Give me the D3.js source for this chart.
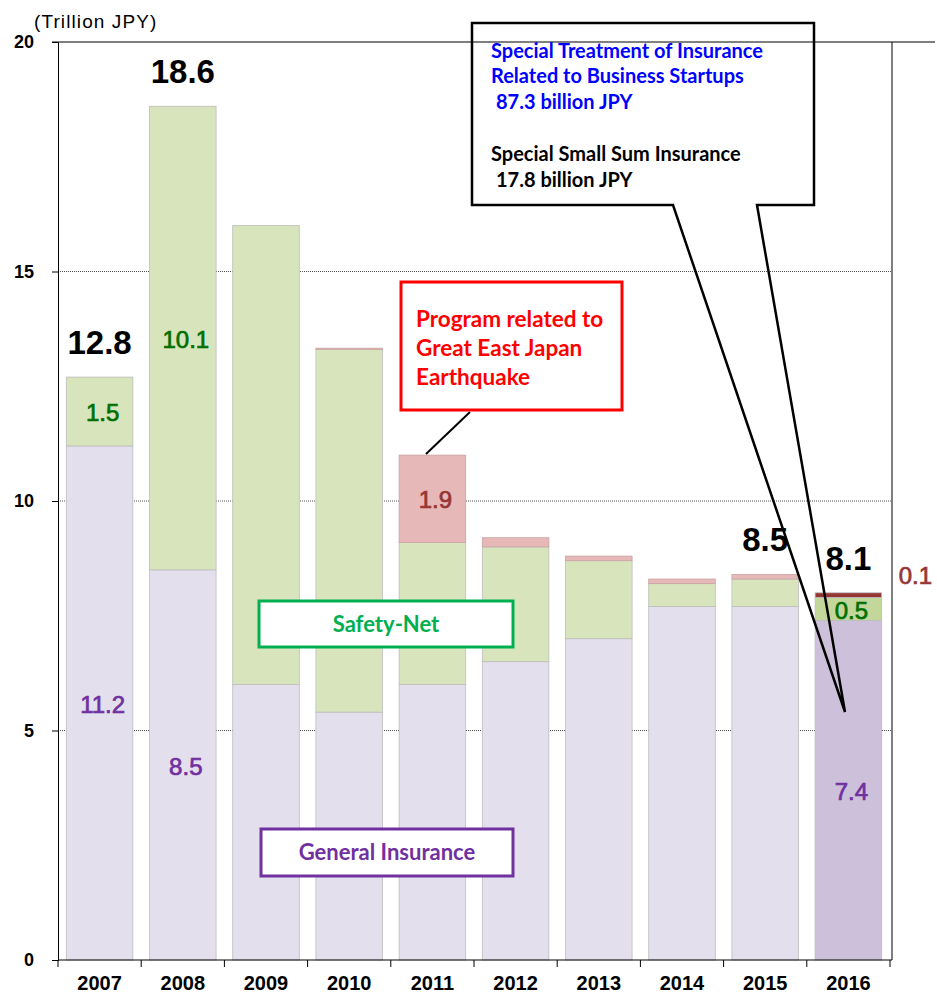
<!DOCTYPE html>
<html>
<head>
<meta charset="utf-8">
<script src="https://cdn.jsdelivr.net/npm/d3@7"></script>
<style>
  html, body { margin: 0; padding: 0; background: #fff; }
  svg { display: block; }
</style>
</head>
<body>
<svg id="chart" width="937" height="994"></svg>
<script>
// Credit guarantee amounts by fiscal year (trillion JPY)
const years = ['2007', '2008', '2009', '2010', '2011', '2012', '2013', '2014', '2015', '2016'];
const general = [11.2, 8.5, 6.0, 5.4, 6.0, 6.5, 7.0, 7.7, 7.7, 7.4];
const safetyNet = [1.5, 10.1, 10.0, 7.9, 3.1, 2.5, 1.7, 0.5, 0.6, 0.5];
const earthquake = [0, 0, 0, 0.03, 1.9, 0.2, 0.1, 0.1, 0.1, 0];
const specialPrograms = [0, 0, 0, 0, 0, 0, 0, 0, 0, 0.1];

// Totals printed above selected bars
const totalYears = ['2007', '2008', '2015', '2016'];
const totalLabels = ['12.8', '18.6', '8.5', '8.1'];

// Years whose segments carry value labels
const generalLabelYears = ['2007', '2008', '2016'];
const safetyLabelYears = ['2007', '2008', '2016'];
const earthquakeLabelYears = ['2011'];
const specialLabelYears = ['2016'];

const yTicks = [0, 5, 10, 15, 20];
const highlightYear = '2016';

const rows = years.map((yr, i) => ({
  year: yr,
  general: general[i],
  safetyNet: safetyNet[i],
  earthquake: earthquake[i],
  special: specialPrograms[i]
}));

const keys = ['general', 'safetyNet', 'earthquake', 'special'];
const stack = d3.stack().keys(keys)(rows);

const fills = {
  general: ['#e4dfec', '#ccc0da'],
  safetyNet: ['#d8e4bc', '#c4d79b'],
  earthquake: ['#e6b8b7', '#e6b8b7'],
  special: ['#963634', '#963634']
};
const labelColors = {
  general: '#7030a0',
  safetyNet: '#007000',
  earthquake: '#963634',
  special: '#963634'
};

const svg = d3.select('#chart');
const plotLeft = 58, plotRight = 890, plotTop = 42, plotBottom = 960;

const x = d3.scaleBand().domain(years).range([plotLeft, plotRight]).paddingInner(0.2).paddingOuter(0.1);
const y = d3.scaleLinear().domain([0, 20]).range([plotBottom, plotTop]);

const numFont = '"Liberation Sans", Arial, sans-serif';
const textFont = 'Lato, "Open Sans", sans-serif';

// Dotted gridlines
svg.append('g').selectAll('line')
  .data(yTicks.filter(t => t > 0 && t < 20))
  .join('line')
  .attr('x1', plotLeft).attr('x2', plotRight + 2)
  .attr('y1', d => y(d)).attr('y2', d => y(d))
  .attr('stroke', '#555').attr('stroke-width', 1)
  .attr('stroke-dasharray', '1,1');

// Stacked bars
const layer = svg.append('g').selectAll('g')
  .data(stack)
  .join('g');

layer.selectAll('rect')
  .data(s => s.map(d => ({ key: s.key, d })).filter(o => o.d[1] - o.d[0] > 0))
  .join('rect')
  .attr('x', o => x(o.d.data.year))
  .attr('width', x.bandwidth())
  .attr('y', o => y(o.d[1]))
  .attr('height', o => y(o.d[0]) - y(o.d[1]))
  .attr('fill', o => fills[o.key][o.d.data.year === highlightYear ? 1 : 0])
  .attr('stroke', o => o.key === 'earthquake' ? '#c9a3a2' : '#bdbdbd')
  .attr('stroke-width', 0.8);

// Segment value labels
function segLabels(key, labelYears, dx, dy) {
  const s = stack.find(l => l.key === key);
  const data = s.filter(d => labelYears.includes(d.data.year));
  svg.append('g').selectAll('text')
    .data(data)
    .join('text')
    .attr('x', d => x(d.data.year) + x.bandwidth() / 2 + dx)
    .attr('y', d => (y(d[0]) + y(d[1])) / 2 + dy)
    .attr('dy', '0.36em')
    .attr('text-anchor', 'middle')
    .attr('font-family', numFont)
    .attr('font-size', 24)
    .attr('fill', labelColors[key])
    .attr('stroke', labelColors[key])
    .attr('stroke-width', 0.7)
    .text(d => d3.format('.1f')(d.data[key]));
}
segLabels('general', generalLabelYears, 3, 1);
segLabels('safetyNet', safetyLabelYears, 3, 1);
segLabels('earthquake', earthquakeLabelYears, 3, 1);
// the 0.1 segment is too thin for an inside label; set it off to the right
segLabels('special', specialLabelYears, 67, -20);

// Totals above bars
const topLayer = stack[stack.length - 1];
svg.append('g').selectAll('text')
  .data(topLayer.filter(d => totalYears.includes(d.data.year)))
  .join('text')
  .attr('x', d => x(d.data.year) + x.bandwidth() / 2)
  .attr('y', d => y(d[1]) - 23)
  .attr('text-anchor', 'middle')
  .attr('font-family', numFont)
  .attr('font-weight', 'bold')
  .attr('font-size', 33)
  .attr('fill', '#000')
  .text(d => totalLabels[totalYears.indexOf(d.data.year)]);

// Frame: top line, right edge
svg.append('line').attr('x1', plotLeft - 6).attr('x2', 935).attr('y1', plotTop).attr('y2', plotTop)
  .attr('stroke', '#000').attr('stroke-width', 1);
svg.append('line').attr('x1', plotRight + 2).attr('x2', plotRight + 2).attr('y1', plotTop).attr('y2', plotBottom)
  .attr('stroke', '#000').attr('stroke-width', 1);

// Y axis
const yAxis = svg.append('g')
  .attr('transform', `translate(${plotLeft},0)`)
  .call(d3.axisLeft(y).tickValues(yTicks).tickSize(6).tickPadding(18).tickFormat(d3.format('d')));
yAxis.select('.domain').attr('stroke', '#000');
yAxis.selectAll('line').attr('stroke', '#000');
yAxis.selectAll('text')
  .attr('font-family', numFont)
  .attr('font-weight', 'bold')
  .attr('font-size', 18)
  .attr('fill', '#000');

// X axis baseline with ticks between categories
svg.append('line').attr('x1', plotLeft).attr('x2', plotRight + 2).attr('y1', plotBottom).attr('y2', plotBottom)
  .attr('stroke', '#000');
const step = x.step();
svg.append('g').selectAll('line')
  .data(d3.range(years.length + 1))
  .join('line')
  .attr('x1', i => plotLeft + i * step).attr('x2', i => plotLeft + i * step)
  .attr('y1', plotBottom).attr('y2', plotBottom + 7)
  .attr('stroke', '#000');

const xAxis = svg.append('g')
  .attr('transform', `translate(0,${plotBottom})`)
  .call(d3.axisBottom(x).tickSize(0).tickPadding(16));
xAxis.select('.domain').remove();
xAxis.selectAll('text')
  .attr('font-family', numFont)
  .attr('font-weight', 'bold')
  .attr('font-size', 20)
  .attr('fill', '#000');

// Unit caption
svg.append('text')
  .attr('x', 34).attr('y', 28)
  .attr('font-family', numFont)
  .attr('font-size', 19)
  .attr('letter-spacing', 1.1)
  .attr('fill', '#000')
  .text('(Trillion JPY)');

// Earthquake program callout
svg.append('line')
  .attr('x1', 470).attr('y1', 412).attr('x2', 426).attr('y2', 454)
  .attr('stroke', '#000').attr('stroke-width', 2);
svg.append('rect')
  .attr('x', 401).attr('y', 282).attr('width', 221).attr('height', 128)
  .attr('fill', '#fff').attr('stroke', '#ff0000').attr('stroke-width', 3);
const eqLines = ['Program related to', 'Great East Japan', 'Earthquake'];
svg.append('g').selectAll('text')
  .data(eqLines)
  .join('text')
  .attr('x', 416)
  .attr('y', (d, i) => 327 + i * 29)
  .attr('font-family', textFont)
  .attr('font-weight', 'bold')
  .attr('font-size', 22.5)
  .attr('fill', '#ff0000')
  .text(d => d);

// Series name boxes
function nameBox(x0, y0, w, h, color, label) {
  svg.append('rect')
    .attr('x', x0).attr('y', y0).attr('width', w).attr('height', h)
    .attr('fill', '#fff').attr('stroke', color).attr('stroke-width', 3);
  svg.append('text')
    .attr('x', x0 + w / 2).attr('y', y0 + h / 2)
    .attr('dy', '0.35em')
    .attr('text-anchor', 'middle')
    .attr('font-family', textFont)
    .attr('font-weight', 'bold')
    .attr('font-size', 22)
    .attr('fill', color)
    .text(label);
}
nameBox(259, 601, 254, 46, '#00b050', 'Safety-Net');
nameBox(261, 829, 252, 47, '#7030a0', 'General Insurance');

// Callout for the 2016 special programs
svg.append('path')
  .attr('d', 'M472,23 H814 V205 H757 L845,712 L673,205 H472 Z')
  .attr('fill', 'none')
  .attr('stroke', '#000')
  .attr('stroke-width', 2.5)
  .attr('stroke-linejoin', 'miter');
const calloutLines = [
  { t: 'Special Treatment of Insurance', c: '#0000ff', x: 491, y: 58 },
  { t: 'Related to Business Startups', c: '#0000ff', x: 491, y: 83 },
  { t: '87.3 billion JPY', c: '#0000ff', x: 496, y: 109 },
  { t: 'Special Small Sum Insurance', c: '#000', x: 491, y: 161 },
  { t: '17.8 billion JPY', c: '#000', x: 496, y: 187 }
];
svg.append('g').selectAll('text')
  .data(calloutLines)
  .join('text')
  .attr('x', d => d.x).attr('y', d => d.y)
  .attr('font-family', textFont)
  .attr('font-weight', 'bold')
  .attr('font-size', 20)
  .attr('fill', d => d.c)
  .text(d => d.t);
</script>
</body>
</html>
